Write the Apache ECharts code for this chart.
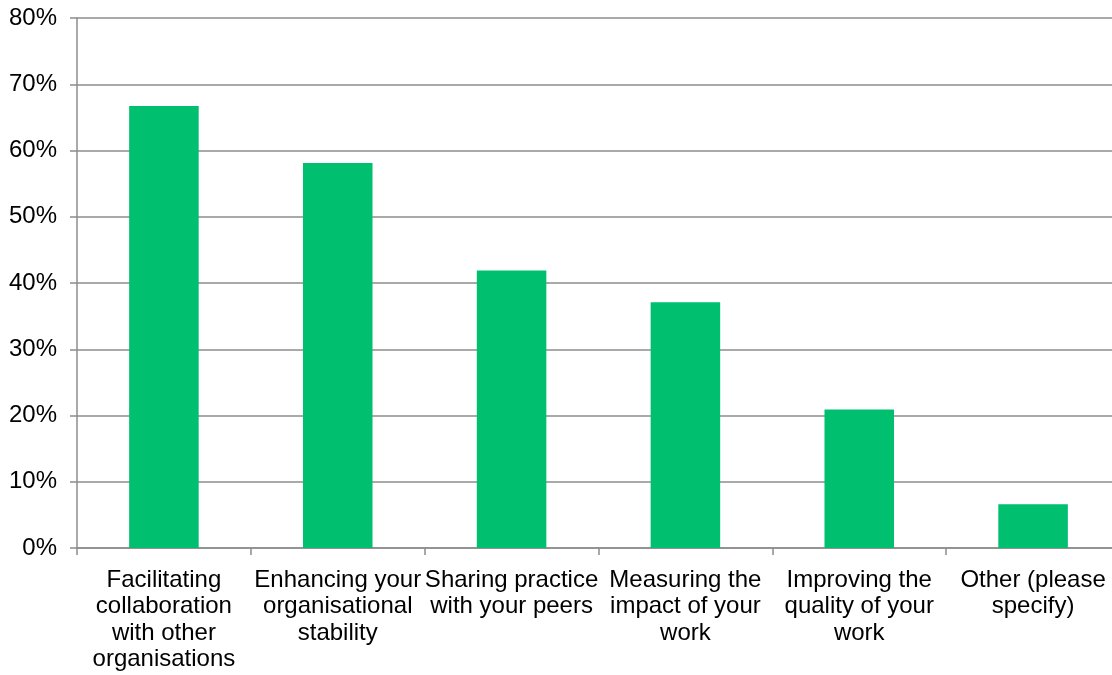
<!DOCTYPE html>
<html>
<head>
<meta charset="utf-8">
<script src="https://cdn.jsdelivr.net/npm/echarts@6/dist/echarts.min.js"></script>
<style>html,body{margin:0;padding:0;background:#fff}#c{width:1112px;height:675px}</style>
</head>
<body>
<div id="c"></div>
<script>
var categories = [
  "Facilitating\ncollaboration\nwith other\norganisations",
  "Enhancing your\norganisational\nstability",
  "Sharing practice\nwith your peers",
  "Measuring the\nimpact of your\nwork",
  "Improving the\nquality of your\nwork",
  "Other (please\nspecify)"
];
var values = [66.7, 58.1, 41.9, 37.1, 20.9, 6.6];
var yTicks = { min: 0, max: 80, interval: 10 };

var chart = echarts.init(document.getElementById('c'), null, { renderer: 'canvas' });
chart.setOption({
  animation: false,
  backgroundColor: '#ffffff',
  grid: { left: 77, right: -8, top: 18, bottom: 127, containLabel: false, outerBoundsMode: 'none' },
  xAxis: {
    type: 'category',
    data: categories,
    axisLine: { show: true, lineStyle: { color: '#8c8c8c', width: 1.5 } },
    axisTick: { show: true, alignWithLabel: false, length: 7, lineStyle: { color: '#8c8c8c', width: 1.5 } },
    axisLabel: {
      interval: 0, margin: 19, color: '#000000',
      fontFamily: '"Liberation Sans", Arial, sans-serif', fontSize: 24, lineHeight: 26.5
    },
    splitLine: { show: false }
  },
  yAxis: {
    type: 'value',
    min: yTicks.min, max: yTicks.max, interval: yTicks.interval,
    axisLine: { show: true, lineStyle: { color: '#8c8c8c', width: 1.5 } },
    axisTick: { show: true, length: 7, lineStyle: { color: '#8c8c8c', width: 1.5 } },
    axisLabel: {
      formatter: '{value}%', margin: 20, color: '#000000',
      fontFamily: '"Liberation Sans", Arial, sans-serif', fontSize: 24
    },
    splitLine: { show: true, lineStyle: { color: '#8c8c8c', width: 1.5 } }
  },
  series: [{
    type: 'bar',
    data: values,
    barWidth: '40%',
    itemStyle: { color: '#00BF6F' }
  }]
});
</script>
</body>
</html>
